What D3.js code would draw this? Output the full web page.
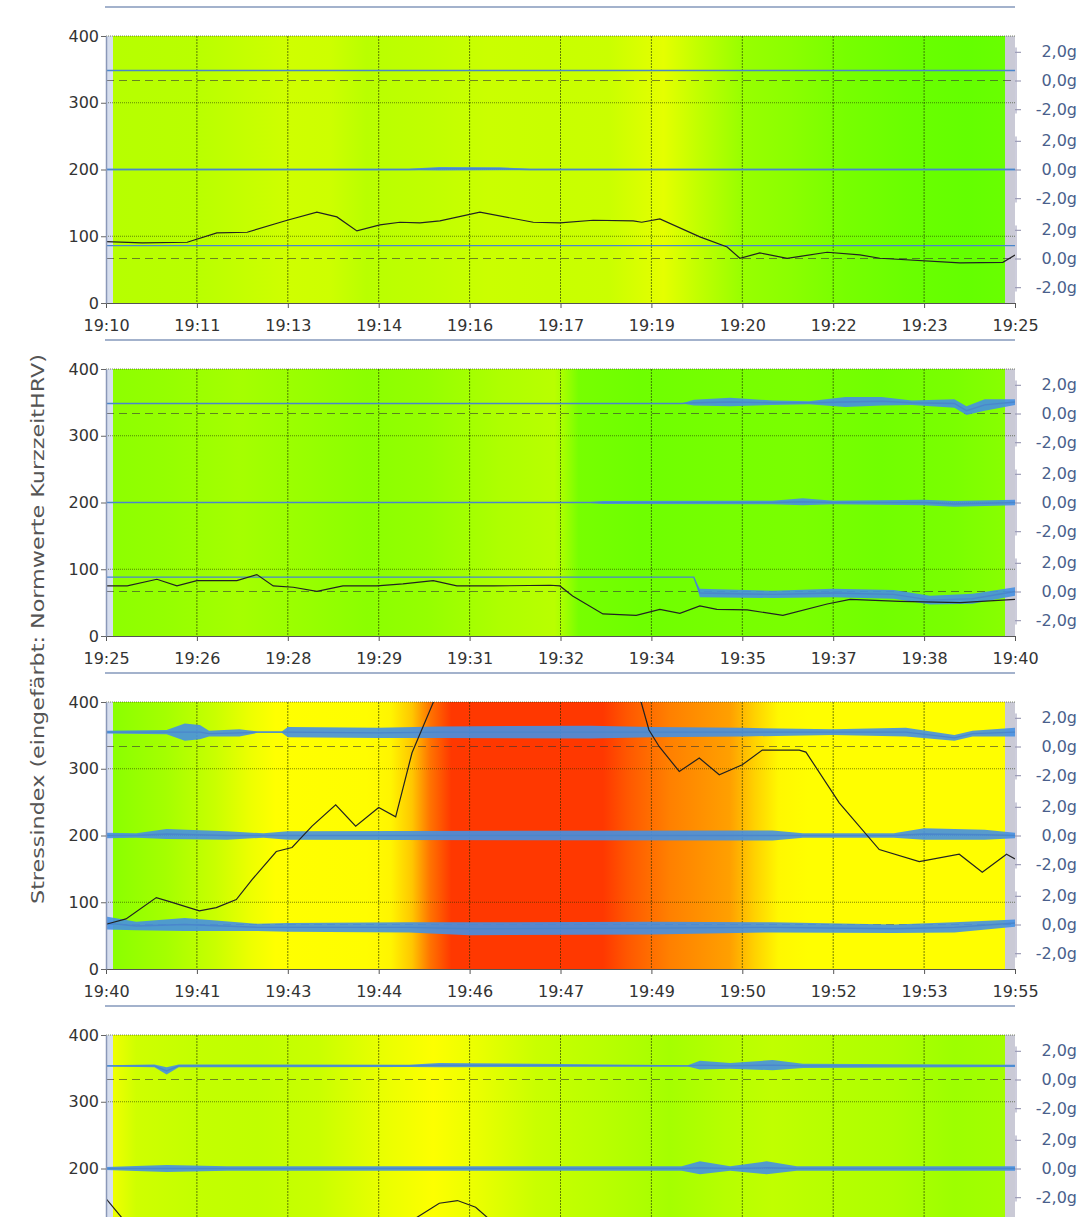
<!DOCTYPE html>
<html>
<head>
<meta charset="utf-8">
<script src="https://cdn.jsdelivr.net/npm/d3@7"></script>
<style>
  body { margin: 0; background: #fff; overflow: hidden; }
  text { font-family: "DejaVu Sans", Verdana, sans-serif; }
</style>
</head>
<body>
<div id="chart"></div>
<script>
// panel start times, each panel covers 15 minutes
var panelStarts = ["19:10", "19:25", "19:40", "19:55"];

// stress index (black line): [minutes after panel start, value]
var stressP1 = [[0,92],[0.6,90],[1.34,91],[1.83,105],[2.33,106],[2.99,124],[3.48,136],[3.81,129],[4.14,108],[4.52,117],[4.85,121],[5.18,120],[5.51,123],[6.17,136],[7.05,121],[7.49,120],[8.04,124],[8.7,123],[8.84,121],[9.14,126],[9.8,99],[10.25,84],[10.46,67],[10.79,75],[11.24,67],[11.9,76],[12.44,72],[12.77,67],[14.09,60],[14.8,61],[15,72]];
var stressP2 = [[0,75],[0.35,75],[0.84,85],[1.17,75],[1.5,83],[2.16,83],[2.49,92],[2.76,75],[3.09,73],[3.48,67],[3.91,75],[4.47,75],[4.9,78],[5.4,83],[5.79,75],[6.39,75],[7.33,76],[7.49,75],[7.7,60],[8.2,33],[8.75,31],[9.14,40],[9.47,34],[9.8,45],[10.08,40],[10.58,39],[11.17,31],[11.9,48],[12.28,55],[13.1,52],[14.1,50],[15,55]];
var stressP3 = [[0,67],[0.33,75],[0.83,107],[1.05,101],[1.54,87],[1.82,92],[2.15,104],[2.41,134],[2.81,176],[3.07,182],[3.4,214],[3.79,246],[4.12,214],[4.5,242],[4.78,228],[5.05,324],[5.45,410],[6.2,460],[7.5,470],[8.4,440],[8.83,400],[8.96,358],[9.13,333],[9.46,296],[9.79,316],[10.12,291],[10.5,306],[10.83,328],[11.44,328],[11.55,325],[12.1,249],[12.76,179],[13.42,161],[14.08,172],[14.46,145],[14.86,172],[15,165]];
var stressP4 = [[0,155],[0.3,122],[0.8,95],[2,88],[3.5,92],[4.7,100],[5.1,125],[5.5,148],[5.8,152],[6.1,142],[6.5,110],[7.5,95],[9,90],[11,92],[13,88],[15,90]];

// background colouring level: [minutes, level]
var bgP1 = [[0,110],[1.5,112],[3,130],[3.7,128],[4.3,112],[5.3,118],[6.3,126],[7.3,124],[8.3,126],[9.2,148],[9.8,118],[10.5,92],[11.3,84],[12.2,72],[13.2,64],[14.2,60],[15,64]];
var bgP2 = [[0,85],[1,90],[2.2,100],[3.3,92],[4.3,84],[5.3,90],[6.5,105],[7.4,112],[7.55,100],[7.8,72],[8.8,66],[10.3,72],[11.5,74],[12.8,68],[14,74],[15,84]];
var bgP3 = [[0,82],[1,100],[1.8,125],[2.4,155],[2.8,170],[4.3,180],[4.7,210],[5.05,270],[5.35,335],[5.7,395],[8.2,395],[8.6,360],[9.3,325],[10.3,300],[10.7,262],[11.1,200],[11.6,175],[15,175]];
var bgP4 = [[0,165],[0.5,130],[1.5,120],[2.5,118],[3.5,125],[4.5,150],[5.4,168],[6.2,150],[7.1,125],[8.2,112],[9.3,100],[10.2,110],[11,118],[12,110],[13,105],[14,95],[15,100]];

// acceleration traces (blue): [minutes, level in g, spread in g]
var accTopP1 = [[0,0.7,0],[15,0.7,0]];
var accMidP1 = [[0,0,0.05],[5,0,0.05],[5.5,0.05,0.12],[6.5,0.05,0.1],[7,0,0.05],[15,0,0.05]];
var accLowP1 = [[0,0.9,0],[15,0.9,0]];
var accTopP2 = [[0,0.7,0],[9.5,0.7,0],[9.7,0.75,0.2],[10.3,0.8,0.3],[11,0.75,0.15],[11.6,0.75,0.1],[12.2,0.8,0.35],[12.8,0.85,0.3],[13.3,0.75,0.15],[14,0.7,0.3],[14.2,0.2,0.3],[14.5,0.6,0.4],[15,0.8,0.2]];
var accMidP2 = [[0,0,0.03],[8,0,0.03],[8.2,0,0.1],[11,0,0.12],[11.5,0.05,0.25],[12,0,0.12],[13.5,0,0.2],[14,-0.1,0.2],[15,0,0.2]];
var accLowP2 = [[0,1.0,0],[9.7,1.0,0],[9.8,-0.1,0.3],[11,-0.2,0.25],[12,-0.1,0.3],[13,-0.2,0.3],[13.6,-0.6,0.3],[14.3,-0.5,0.35],[15,0,0.3]];
var accTopP3 = [[0,1.0,0.1],[1.0,1.0,0.15],[1.3,1.0,0.6],[1.55,1.0,0.5],[1.7,0.9,0.2],[2.2,0.95,0.25],[2.5,1.0,0.05],[2.9,1.0,0.05],[3.0,1.0,0.35],[4.5,0.95,0.35],[5.5,1.0,0.4],[8,1.0,0.45],[9,1.0,0.35],[10.5,1.0,0.3],[12,1.0,0.2],[13.2,1.0,0.3],[14,0.6,0.2],[14.3,0.9,0.2],[15,1.0,0.3]];
var accMidP3 = [[0,0,0.2],[0.5,0,0.15],[1,0.1,0.35],[2,0,0.3],[2.6,0,0.15],[3,0,0.3],[11,0,0.35],[11.5,0,0.15],[13,0,0.15],[13.5,0.1,0.4],[14.5,0.05,0.35],[15,0,0.2]];
var accLowP3 = [[0,0.1,0.45],[0.5,-0.1,0.3],[1.3,0,0.45],[2.5,-0.2,0.25],[3,-0.2,0.3],[5,-0.2,0.35],[6,-0.3,0.45],[9,-0.25,0.45],[11,-0.2,0.35],[13,-0.3,0.3],[14,-0.2,0.35],[15,0.1,0.25]];
var accTopP4 = [[0,0.95,0.05],[0.8,0.95,0.1],[1.0,0.6,0.25],[1.2,0.95,0.1],[5,0.95,0.08],[5.5,1.0,0.15],[9.6,0.95,0.05],[9.8,1.0,0.3],[10.3,0.95,0.2],[11,1.0,0.35],[11.5,0.95,0.15],[15,0.95,0.08]];
var accMidP4 = [[0,0,0.1],[1,0,0.25],[2,0,0.15],[9.5,0,0.15],[9.8,0.05,0.45],[10.3,0,0.15],[10.9,0.05,0.45],[11.4,0,0.15],[15,0,0.15]];
var accLowP4 = [[0,0,0.2],[15,0,0.2]];

var yTicks = [0, 100, 200, 300, 400];
var gTicks = [-2, 0, 2];
var bgLevels = [55, 80, 110, 140, 170, 240, 300, 350, 400];
var bgColors = ["#5cff00", "#84ff00", "#b6ff00", "#dcff00", "#ffff00", "#ffee00", "#ffa000", "#ff6000", "#ff3300"];

var panels = [
  { start: panelStarts[0], stress: stressP1, bg: bgP1, acc: [accTopP1, accMidP1, accLowP1] },
  { start: panelStarts[1], stress: stressP2, bg: bgP2, acc: [accTopP2, accMidP2, accLowP2] },
  { start: panelStarts[2], stress: stressP3, bg: bgP3, acc: [accTopP3, accMidP3, accLowP3] },
  { start: panelStarts[3], stress: stressP4, bg: bgP4, acc: [accTopP4, accMidP4, accLowP4] }
];

var viewW = 1083, viewH = 1217;
var left = 106, right = 1015,
    top0 = 36, panelH = 267, panelStep = 333;

var parseTime = d3.timeParse("%H:%M");
var fmtTime = d3.timeFormat("%H:%M");
var locale = d3.formatLocale({ decimal: ",", thousands: ".", grouping: [3], currency: ["", ""], minus: "-" });
var fmtG = locale.format(".1f");
var bgColor = d3.scaleLinear().domain(bgLevels).range(bgColors).clamp(true);

var svg = d3.select("#chart").append("svg")
    .attr("width", viewW)
    .attr("height", viewH);

var defs = svg.append("defs");

// y axis title
svg.append("text")
    .attr("transform", "translate(38,629) rotate(-90)")
    .attr("text-anchor", "middle")
    .attr("dy", "0.35em")
    .style("font-size", "18px")
    .attr("fill", "#555")
    .attr("textLength", 550)
    .attr("lengthAdjust", "spacingAndGlyphs")
    .text("Stressindex (eingefärbt: Normwerte KurzzeitHRV)");

// only keep tick labels that lie inside the visible page
function visible(pos) { return pos < viewH - 10; }

panels.forEach(function(p, i) {
  var top = top0 + i * panelStep;
  var t0 = parseTime(p.start);
  var toDate = function(m) { return new Date(t0.getTime() + m * 60000); };

  var x = d3.scaleTime().domain([t0, toDate(15)]).range([left, right]);
  var y = d3.scaleLinear().domain([0, 400]).range([top + panelH, top]);
  var yG = [0, 1, 2].map(function(g) {
    return d3.scaleLinear().domain([-3.1, 3.1])
      .range([top + (g + 1) * panelH / 3, top + g * panelH / 3]);
  });

  var g = svg.append("g").attr("class", "panel");

  // separator line above the panel
  g.append("line")
    .attr("x1", left - 1).attr("x2", right)
    .attr("y1", top - 29).attr("y2", top - 29)
    .attr("stroke", "#a3b2cc").attr("stroke-width", 2);

  // background gradient from stress colouring
  var gradId = "bg" + i;
  defs.append("linearGradient")
      .attr("id", gradId)
      .attr("gradientUnits", "userSpaceOnUse")
      .attr("x1", x(toDate(0))).attr("x2", x(toDate(15)))
      .attr("y1", 0).attr("y2", 0)
    .selectAll("stop")
    .data(p.bg)
    .enter().append("stop")
      .attr("offset", function(d) { return d[0] / 15; })
      .attr("stop-color", function(d) { return bgColor(d[1]); });

  g.append("rect")
    .attr("x", left).attr("y", top)
    .attr("width", 7).attr("height", panelH)
    .attr("fill", "#d6deee");
  g.append("rect")
    .attr("x", left + 7).attr("y", top)
    .attr("width", right - left - 17).attr("height", panelH)
    .attr("fill", "url(#" + gradId + ")");
  g.append("rect")
    .attr("x", right - 10).attr("y", top)
    .attr("width", 10).attr("height", panelH)
    .attr("fill", "#cacad6");

  var xTicks = d3.range(0, 11).map(function(k) { return toDate(k * 1.5); });

  // grid
  g.append("g").selectAll("line")
    .data(xTicks.slice(1, 10))
    .enter().append("line")
      .attr("x1", function(d) { return x(d); }).attr("x2", function(d) { return x(d); })
      .attr("y1", top).attr("y2", top + panelH)
      .attr("stroke", "#1a2a00").attr("stroke-opacity", 0.6)
      .attr("stroke-dasharray", "2,1");
  g.append("g").selectAll("line")
    .data(yTicks.slice(1))
    .enter().append("line")
      .attr("x1", left).attr("x2", right)
      .attr("y1", function(d) { return y(d); }).attr("y2", function(d) { return y(d); })
      .attr("stroke", "#1a2a00").attr("stroke-opacity", 0.55)
      .attr("stroke-dasharray", "1,1");

  var clipId = "clip" + i;
  defs.append("clipPath").attr("id", clipId)
    .append("rect")
      .attr("x", left).attr("y", top)
      .attr("width", right - left).attr("height", panelH);

  var plot = g.append("g").attr("clip-path", "url(#" + clipId + ")");

  // zero lines of top and bottom acceleration groups
  [0, 2].forEach(function(k) {
    plot.append("line")
      .attr("x1", left).attr("x2", right)
      .attr("y1", yG[k](0)).attr("y2", yG[k](0))
      .attr("stroke", "#333").attr("stroke-opacity", 0.6)
      .attr("stroke-dasharray", "8,5");
  });

  // acceleration traces
  p.acc.forEach(function(series, k) {
    var band = d3.area()
      .x(function(d) { return x(toDate(d[0])); })
      .y0(function(d) { return yG[k](d[1] - d[2]); })
      .y1(function(d) { return yG[k](d[1] + d[2]); });
    var line = d3.line()
      .x(function(d) { return x(toDate(d[0])); })
      .y(function(d) { return yG[k](d[1]); });
    plot.append("path")
      .datum(series)
      .attr("d", band)
      .attr("fill", "#4690e2")
      .attr("fill-opacity", 0.9);
    plot.append("path")
      .datum(series)
      .attr("d", line)
      .attr("fill", "none")
      .attr("stroke", "#4a86cc")
      .attr("stroke-width", 1.4);
  });

  // stress index line
  plot.append("path")
    .datum(p.stress)
    .attr("d", d3.line()
      .x(function(d) { return x(toDate(d[0])); })
      .y(function(d) { return y(d[1]); }))
    .attr("fill", "none")
    .attr("stroke", "#222")
    .attr("stroke-width", 1.2);

  // axes
  if (visible(top + panelH + 30)) {
    var xAxis = g.append("g")
      .attr("transform", "translate(0," + (top + panelH) + ")")
      .call(d3.axisBottom(x).tickValues(xTicks).tickFormat(fmtTime).tickSize(5).tickPadding(12).tickSizeOuter(0));
    xAxis.select(".domain").attr("stroke", "#555");
    xAxis.selectAll(".tick line").attr("stroke", "#555");
    xAxis.selectAll("text").style("font-size", "16px").attr("fill", "#333");
  }

  var yAxis = g.append("g")
    .attr("transform", "translate(" + left + ",0)")
    .call(d3.axisLeft(y)
      .tickValues(yTicks.filter(function(v) { return visible(y(v)); }))
      .tickSize(5).tickPadding(2).tickSizeOuter(0));
  yAxis.select(".domain").attr("stroke", "#8a98b8").attr("stroke-width", 1.5);
  yAxis.selectAll(".tick line").attr("stroke", "#666");
  yAxis.selectAll("text").style("font-size", "16px").attr("fill", "#333");

  yG.forEach(function(s) {
    var vals = gTicks.filter(function(v) { return visible(s(v)); });
    if (!vals.length) return;
    var ax = g.append("g")
      .attr("transform", "translate(" + right + ",0)")
      .call(d3.axisRight(s).tickValues(vals)
        .tickFormat(function(d) { return fmtG(d) + "g"; })
        .tickSize(6).tickSizeOuter(0));
    ax.select(".domain").remove();
    ax.append("line")
      .attr("x1", 1).attr("x2", 1)
      .attr("y1", s(2.3)).attr("y2", s(-2.3))
      .attr("stroke", "#9a9ab8");
    ax.selectAll(".tick line").attr("stroke", "#8a8aa8");
    ax.selectAll("text")
      .attr("x", 62)
      .attr("text-anchor", "end")
      .style("font-size", "16px")
      .attr("fill", "#4a5f8c");
  });
});
</script>
</body>
</html>
